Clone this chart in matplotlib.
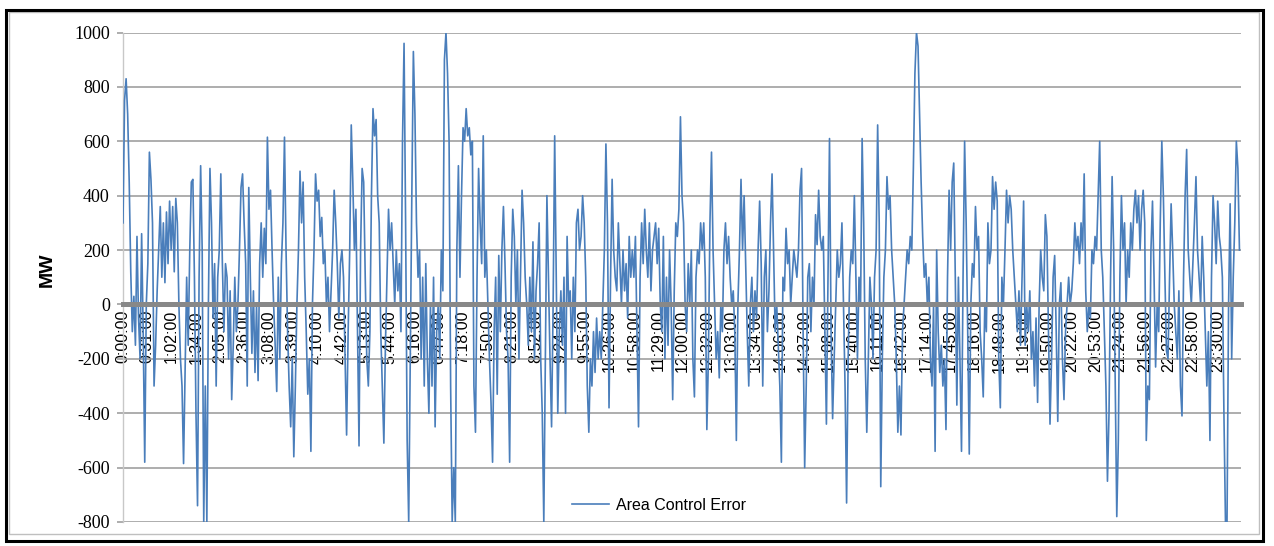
import numpy as np
import matplotlib.pyplot as plt
from matplotlib.patches import Rectangle

# Area Control Error (MW), one value every 2 minutes, one row per hour
ace_mw = [
    300, 750, 830, 700, 450, 120, -100, 30, -150, 250, -50, -200, 260, -100, -580,
    0, 150, 560, 460, 300, -300, -150, 50, 200, 360, 100, 300, 80, 340, 150,
    380, 200, 360, 120, 390, 300, 0, -200, -300, -585, -250, 100, -150, 200, 450,
    460, 100, -400, -740, 100, 510, 200, -800, -300, -800, 0, 500, 300, -50, 150,
    -300, 100, 200, 480, 150, -100, 150, 100, -200, 50, -350, -150, 100, -100, 0,
    200, 430, 480, 300, 150, -300, 430, 100, -180, 50, -250, 0, -280, 150, 300,
    100, 280, 150, 615, 350, 420, 200, 0, -150, -320, 100, -200, 150, 300, 615,
    200, -100, -300, -450, -200, -560, -300, 0, 200, 490, 300, 450, 100, -100, -330,
    -200, -540, 0, 200, 480, 380, 420, 250, 320, 150, 200, 0, 100, -100, 50,
    200, 420, 300, 150, -50, 150, 200, 100, -200, -480, -100, 200, 660, 450, 200,
    350, -100, -520, 200, 500, 450, 100, -200, -300, -100, 400, 720, 620, 680, 400,
    300, -100, -300, -510, -150, 100, 350, 200, 300, 150, 0, 200, 50, 150, -100,
    600, 960, 300, -500, -800, -200, 400, 930, 700, 300, 100, 200, -200, 100, -300,
    150, -200, -400, 0, -300, 100, -450, -100, 0, -200, 200, 50, 900, 1000, 850,
    600, -300, -800, -600, -800, 200, 510, 100, 400, 650, 600, 720, 620, 650, 550,
    600, -300, -470, 100, 500, 300, 150, 620, 100, 200, 0, -200, -360, -580, -100,
    100, -330, 180, -100, 200, 360, 150, -100, -200, -580, 100, 350, 250, 0, 200,
    -200, 100, 420, 300, 100, 0, -150, 100, -100, 230, -200, 50, 150, 300, -200,
    -400, -800, -200, 400, 100, -200, -450, 0, 620, 100, -400, -100, 50, -150, 100,
    -400, 250, 0, 50, -200, 100, -100, 300, 350, 200, 250, 400, 300, 100, -300,
    -470, -200, -300, -100, -250, -50, -200, -100, -200, 0, 200, 590, 300, -380, 100,
    460, 200, 100, 50, 300, 150, 0, 200, 50, 150, -50, 250, 100, 200, 100,
    250, -100, -450, 100, 300, 150, 350, 200, 100, 300, 50, 200, 250, 300, 150,
    280, 0, -100, 250, -200, 100, -150, 200, 0, -350, 50, 300, 250, 350, 690,
    400, 300, 0, -100, 150, 0, 200, -200, -340, 100, 200, 150, 300, 200, 300,
    100, -460, -200, 300, 560, 200, 0, -200, -100, -270, 0, -100, 200, 300, 150,
    250, 100, 0, 50, -100, -500, 0, 200, 460, 200, 400, 150, -100, -300, 0,
    100, -100, 50, -50, 200, 380, 150, -300, 100, 200, -100, 50, 300, 480, 200,
    -100, 0, -150, -300, -580, 100, 50, 280, 150, 200, 0, 100, 200, 150, 100,
    200, 420, 500, -100, -600, -300, 100, 150, -100, 100, 0, 330, 220, 420, 250,
    200, 250, -100, -440, 100, 610, -100, -420, -200, 0, 200, 100, 150, 300, 0,
    -300, -730, -200, 100, 200, 150, 400, 100, -200, 100, 0, 610, 300, -200, -470,
    -200, 100, 0, -200, 100, 200, 660, 300, -670, -200, 100, 200, 470, 350, 400,
    200, 100, 0, -200, -470, -300, -480, -100, 0, 100, 200, 150, 250, 200, 500,
    850, 1000, 950, 700, 450, 250, 100, 150, 0, 100, -200, -300, 0, -540, 200,
    -100, -250, -150, -300, -200, -460, 100, 420, 200, 450, 520, 100, -370, 100, -200,
    -540, 100, 600, 300, -100, -550, 0, 150, 100, 360, 200, 250, -100, -200, -340,
    0, -100, 300, 150, 200, 470, 350, 450, 380, -200, -380, 100, 0, 200, 420,
    300, 400, 350, 200, 100, 0, -100, 50, -150, 100, 380, -150, 0, -100, 50,
    -200, -100, -300, -50, -360, 0, 200, 100, 50, 330, 250, -100, -440, -200, 100,
    180, -100, -430, 0, 80, -200, -350, -100, 0, 100, 0, 50, 150, 300, 200,
    250, 150, 300, 200, 480, 50, -100, 0, -50, 200, 150, 250, 200, 400, 600,
    200, 100, -100, -300, -650, -400, 100, 470, 200, -300, -780, -500, 100, 400, 200,
    300, 0, 200, 100, 300, 200, 350, 420, 300, 400, 200, 350, 420, 300, -500,
    -300, -350, 200, 380, 100, -230, 0, -100, 300, 600, 400, 100, -170, -200, 100,
    370, 200, 0, -100, -200, 50, -300, -410, 100, 400, 570, 200, 100, 0, 150,
    300, 470, 200, 100, 0, 250, 100, -100, -300, -100, -500, 100, 400, 300, 150,
    380, 250, 200, 100, -400, -800, -800, 0, 370, -200, 100, 300, 600, 500, 200,
]
minutes = np.arange(len(ace_mw)) * 2

time_labels = [
    "0:00:00", "0:31:00", "1:02:00", "1:34:00", "2:05:00", "2:36:00", "3:08:00",
    "3:39:00", "4:10:00", "4:42:00", "5:13:00", "5:44:00", "6:16:00", "6:47:00",
    "7:18:00", "7:50:00", "8:21:00", "8:52:00", "9:24:00", "9:55:00", "10:26:00",
    "10:58:00", "11:29:00", "12:00:00", "12:32:00", "13:03:00", "13:34:00",
    "14:06:00", "14:37:00", "15:08:00", "15:40:00", "16:11:00", "16:42:00",
    "17:14:00", "17:45:00", "18:16:00", "18:48:00", "19:19:00", "19:50:00",
    "20:22:00", "20:53:00", "21:24:00", "21:56:00", "22:27:00", "22:58:00",
    "23:30:00",
]
label_minutes = [int(s.split(":")[0]) * 60 + int(s.split(":")[1]) for s in time_labels]
mw_ticks = [-800, -600, -400, -200, 0, 200, 400, 600, 800, 1000]

fig = plt.figure(figsize=(12.74, 5.46), dpi=100)
ax = fig.add_axes([123 / 1274, 24 / 546, 1118 / 1274, 489.5 / 546])

ax.plot(minutes, ace_mw, color="#4a7ebb", lw=1.2, zorder=2.6, label="Area Control Error")

# spines first: moving the bottom spine resets the tick settings
for side in ["top", "right"]:
    ax.spines[side].set_visible(False)
ax.spines["left"].set_color("#c8c8c8")
ax.spines["left"].set_linewidth(1.0)
ax.spines["bottom"].set_position(("data", 0))
ax.spines["bottom"].set_color("#888888")
ax.spines["bottom"].set_linewidth(3.6)
ax.spines["bottom"].set_zorder(3)

ax.set_xlim(0, 1440)
ax.set_ylim(-800, 1000)
ax.set_yticks(mw_ticks)
ax.set_yticklabels([str(v) for v in mw_ticks], fontfamily="Liberation Serif", fontsize=13)
ax.yaxis.grid(True, color="#a0a0a0", lw=1.2)
ax.set_axisbelow(True)
ax.tick_params(axis="y", length=4.5, width=1.2, color="#a0a0a0", pad=5)

ax.set_xticks(label_minutes)
ax.set_xticklabels(time_labels, rotation=90, fontfamily="Liberation Sans", fontsize=11.5)
ax.tick_params(axis="x", length=0, pad=4)

fig.text(47 / 1274, 1 - 270 / 546, "MW", rotation=90, ha="center", va="center",
         fontfamily="Liberation Sans", fontweight="bold", fontsize=14)

fig.legend(loc="center", bbox_to_anchor=(659 / 1274, 1 - 505 / 546), frameon=False,
           prop={"family": "Liberation Sans", "size": 11.5},
           handlelength=2.3, handletextpad=0.4)

# chart area border and outer picture frame
fig.patches.append(Rectangle((9 / 1274, 12 / 546), 1250 / 1274, 522 / 546,
                             transform=fig.transFigure, fill=False,
                             edgecolor="#bfbfbf", lw=1.0))
fig.patches.append(Rectangle((6 / 1274, 1 - 541 / 546), 1257 / 1274, 531 / 546,
                             transform=fig.transFigure, fill=False,
                             edgecolor="black", lw=2.2))

fig.savefig("out.png", dpi=100)
